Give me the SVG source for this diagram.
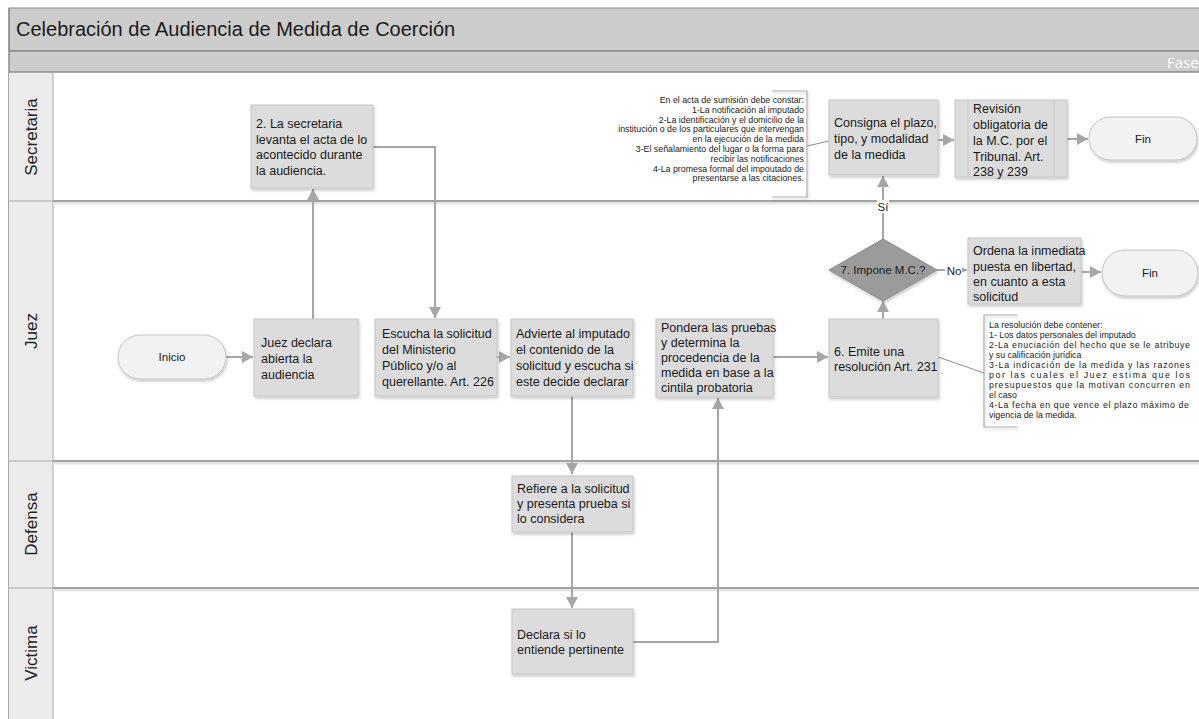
<svg xmlns="http://www.w3.org/2000/svg" width="1199" height="719" viewBox="0 0 1199 719">
  <defs>
    <marker id="arrow" markerUnits="userSpaceOnUse" markerWidth="12" markerHeight="12" refX="11" refY="6" orient="auto">
      <path d="M0,0 L11,6 L0,12 z" fill="#a6a6a6"/>
    </marker>
    <filter id="shadow" x="-10%" y="-10%" width="130%" height="130%">
      <feDropShadow dx="1" dy="2" stdDeviation="1.5" flood-color="#000" flood-opacity="0.22"/>
    </filter>
    <style>
      .node { fill: #dcdcdc; stroke: #c6c6c6; stroke-width: 1; filter: url(#shadow); }
      .term { fill: #f2f2f2; stroke: #c2c2c2; stroke-width: 1; filter: url(#shadow); }
      .dec { fill: #9b9b9b; stroke: #8a8a8a; stroke-width: 1; filter: url(#shadow); }
      .txt { font-family: "Liberation Sans", Arial, sans-serif; font-size: 12.5px; fill: #1a1a1a; }
      .small { font-family: "Liberation Sans", Arial, sans-serif; font-size: 11.5px; fill: #1a1a1a; }
      .note { font-family: "Liberation Sans", Arial, sans-serif; font-size: 8.8px; fill: #222; }
      .lane { font-family: "Liberation Sans", Arial, sans-serif; font-size: 17px; fill: #222; }
      .conn { fill: none; stroke: #a6a6a6; stroke-width: 2; }
      .bracket { fill: none; stroke: #b0b0b0; stroke-width: 1.2; filter: url(#shadow); }
      .sep { stroke: #a3a3a3; stroke-width: 2; }
      .sepShade { stroke: #e6e6e6; stroke-width: 3; }
    </style>
  </defs>

  <rect x="0" y="0" width="1199" height="719" fill="#ffffff"/>

  <!-- Pool header -->
  <g id="pool">
    <rect x="9" y="8" width="1195" height="43" fill="#cccccc" stroke="#8c8c8c" stroke-width="1"/>
    <text x="16" y="36" font-family="Liberation Sans, Arial, sans-serif" font-size="20" fill="#1a1a1a">Celebración de Audiencia de Medida de Coerción</text>
    <rect x="9" y="51" width="1195" height="21" fill="#cccccc"/>
    <line x1="9" y1="51" x2="1199" y2="51" stroke="#8c8c8c" stroke-width="1.5"/>
    <line x1="9" y1="72" x2="1199" y2="72" stroke="#8c8c8c" stroke-width="1.5"/>
    <text x="1167" y="68" font-family="Open Sans, sans-serif" font-size="15" fill="#ffffff">Fase</text>
    <line x1="9" y1="8" x2="9" y2="719" stroke="#8c8c8c" stroke-width="1.5"/>
  </g>

  <!-- Lanes -->
  <g id="lanes">
    <rect x="9" y="73" width="44" height="646" fill="#ececec"/>
    <line x1="53" y1="73" x2="53" y2="719" stroke="#a8a8a8" stroke-width="1"/>
    <line x1="9" y1="201" x2="53" y2="201" stroke="#a8a8a8" stroke-width="1"/>
    <line x1="9" y1="461" x2="53" y2="461" stroke="#a8a8a8" stroke-width="1"/>
    <line x1="9" y1="588" x2="53" y2="588" stroke="#a8a8a8" stroke-width="1"/>
    <line class="sepShade" x1="53" y1="203" x2="1199" y2="203"/>
    <line class="sepShade" x1="53" y1="463" x2="1199" y2="463"/>
    <line class="sepShade" x1="53" y1="590" x2="1199" y2="590"/>
    <line class="sep" x1="53" y1="201" x2="1199" y2="201"/>
    <line class="sep" x1="53" y1="461" x2="1199" y2="461"/>
    <line class="sep" x1="53" y1="588" x2="1199" y2="588"/>
    <text class="lane" transform="translate(37,137) rotate(-90)" text-anchor="middle">Secretaria</text>
    <text class="lane" transform="translate(37,331) rotate(-90)" text-anchor="middle">Juez</text>
    <text class="lane" transform="translate(37,524) rotate(-90)" text-anchor="middle">Defensa</text>
    <text class="lane" transform="translate(37,653) rotate(-90)" text-anchor="middle">Victima</text>
  </g>

  <!-- Connectors -->
  <g id="connectors">
    <line class="conn" x1="226" y1="357" x2="253" y2="357" marker-end="url(#arrow)"/>
    <line class="conn" x1="313" y1="319" x2="313" y2="189" marker-end="url(#arrow)"/>
    <polyline class="conn" points="373,147 435,147 435,318" marker-end="url(#arrow)"/>
    <line class="conn" x1="497" y1="357" x2="510" y2="357" marker-end="url(#arrow)"/>
    <line class="conn" x1="572" y1="397" x2="572" y2="474" marker-end="url(#arrow)"/>
    <line class="conn" x1="572" y1="532" x2="572" y2="608" marker-end="url(#arrow)"/>
    <polyline class="conn" points="633,642 718,642 718,398" marker-end="url(#arrow)"/>
    <line class="conn" x1="773" y1="357" x2="828" y2="357" marker-end="url(#arrow)"/>
    <line class="conn" x1="883" y1="319" x2="883" y2="301" marker-end="url(#arrow)"/>
    <line class="conn" x1="883" y1="239" x2="883" y2="176" marker-end="url(#arrow)"/>
    <line class="conn" x1="937" y1="270" x2="967" y2="270" marker-end="url(#arrow)"/>
    <line class="conn" x1="1082" y1="272" x2="1101" y2="272" marker-end="url(#arrow)"/>
    <line class="conn" x1="938" y1="140" x2="954" y2="140" marker-end="url(#arrow)"/>
    <line class="conn" x1="1067" y1="139" x2="1088" y2="139" marker-end="url(#arrow)"/>
    <line x1="807" y1="146" x2="829" y2="141" stroke="#8c8c8c" stroke-width="1"/>
    <line x1="938" y1="357" x2="984" y2="373" stroke="#8c8c8c" stroke-width="1"/>
    <rect x="877" y="200" width="12" height="13" fill="#ffffff"/>
    <text class="small" x="883" y="211" text-anchor="middle" font-size="11">Sí</text>
    <rect x="945" y="263" width="17" height="13" fill="#ffffff"/>
    <text class="small" x="954" y="274.5" text-anchor="middle" font-size="11">No</text>
  </g>

  <!-- Secretaria lane -->
  <g id="n-acta">
    <rect class="node" x="251" y="105" width="122" height="83"/>
    <text class="txt" x="256" y="128">2. La secretaria</text>
    <text class="txt" x="256" y="143.5">levanta el acta de lo</text>
    <text class="txt" x="256" y="159">acontecido durante</text>
    <text class="txt" x="256" y="174.5">la  audiencia.</text>
  </g>

  <g id="note-acta">
    <path class="bracket" d="M772,91 H807 V197 H772"/>
    <text class="note" text-anchor="end" x="804" y="103">En el acta de sumisión debe constar:</text>
    <text class="note" text-anchor="end" x="804" y="112.8">1-La notificación al imputado</text>
    <text class="note" text-anchor="end" x="804" y="122.6">2-La identificación y el domicilio de la</text>
    <text class="note" text-anchor="end" x="804" y="132.4">institución o de los particulares que intervengan</text>
    <text class="note" text-anchor="end" x="804" y="142.2">en la ejecución de la medida</text>
    <text class="note" text-anchor="end" x="804" y="152">3-El señalamiento del lugar o la forma para</text>
    <text class="note" text-anchor="end" x="804" y="161.8">recibir las notificaciones</text>
    <text class="note" text-anchor="end" x="804" y="171.6">4-La promesa formal del impoutado de</text>
    <text class="note" text-anchor="end" x="804" y="181.4">presentarse a las citaciones.</text>
  </g>

  <g id="n-consigna">
    <rect class="node" x="829" y="100" width="109" height="75"/>
    <text class="txt" x="834" y="127">Consigna el plazo,</text>
    <text class="txt" x="834" y="143">tipo, y modalidad</text>
    <text class="txt" x="834" y="159">de la medida</text>
  </g>

  <g id="n-revision">
    <rect class="node" x="955" y="100" width="112" height="77"/>
    <line x1="968" y1="100" x2="968" y2="177" stroke="#c6c6c6" stroke-width="1"/>
    <line x1="1054" y1="100" x2="1054" y2="177" stroke="#c6c6c6" stroke-width="1"/>
    <text class="txt" x="973" y="113">Revisión</text>
    <text class="txt" x="973" y="129">obligatoria  de</text>
    <text class="txt" x="973" y="145">la M.C. por el</text>
    <text class="txt" x="973" y="161">Tribunal. Art.</text>
    <text class="txt" x="973" y="176">238 y 239</text>
  </g>

  <g id="n-fin1">
    <rect class="term" x="1089" y="117" width="108" height="43" rx="21.5" ry="21.5"/>
    <text class="small" x="1143" y="143" text-anchor="middle">Fin</text>
  </g>

  <!-- Juez lane -->
  <g id="n-inicio">
    <rect class="term" x="118" y="335" width="108" height="44" rx="22" ry="22"/>
    <text class="small" x="172" y="361" text-anchor="middle">Inicio</text>
  </g>

  <g id="n-abierta">
    <rect class="node" x="254" y="319" width="104" height="77"/>
    <text class="txt" x="261" y="347">Juez declara</text>
    <text class="txt" x="261" y="363">abierta la</text>
    <text class="txt" x="261" y="379">audiencia</text>
  </g>

  <g id="n-escucha">
    <rect class="node" x="375" y="319" width="122" height="77"/>
    <text class="txt" x="382" y="338">Escucha la solicitud</text>
    <text class="txt" x="382" y="354">del Ministerio</text>
    <text class="txt" x="382" y="370">Público  y/o al</text>
    <text class="txt" x="382" y="386">querellante. Art. 226</text>
  </g>

  <g id="n-advierte">
    <rect class="node" x="511" y="319" width="122" height="77"/>
    <text class="txt" x="516" y="338">Advierte al imputado</text>
    <text class="txt" x="516" y="354">el contenido de la</text>
    <text class="txt" x="516" y="370">solicitud y escucha si</text>
    <text class="txt" x="516" y="386">este decide declarar</text>
  </g>

  <g id="n-pondera">
    <rect class="node" x="656" y="319" width="117" height="78"/>
    <text class="txt" x="661" y="332">Pondera las pruebas</text>
    <text class="txt" x="661" y="347">y determina la</text>
    <text class="txt" x="661" y="362">procedencia de la</text>
    <text class="txt" x="661" y="377">medida en base a la</text>
    <text class="txt" x="661" y="392">cintila probatoria</text>
  </g>

  <g id="n-emite">
    <rect class="node" x="829" y="319" width="109" height="78"/>
    <text class="txt" x="834" y="356">6. Emite una</text>
    <text class="txt" x="834" y="371">resolución Art. 231</text>
  </g>

  <g id="note-resolucion">
    <path class="bracket" d="M1017,315 H984 V427 H1017"/>
    <text class="note" x="989" y="327.5">La resolución debe contener:</text>
    <text class="note" x="989" y="337.5">1- Los datos personales del imputado</text>
    <text class="note" x="989" y="347.5" textLength="201" lengthAdjust="spacing">2-La enuciación del hecho que se le atribuye</text>
    <text class="note" x="989" y="357.5">y su calificación jurídica</text>
    <text class="note" x="989" y="367.5" textLength="201" lengthAdjust="spacing">3-La indicación de la medida y las razones</text>
    <text class="note" x="989" y="377.5" textLength="201" lengthAdjust="spacing">por las cuales el Juez estima que los</text>
    <text class="note" x="989" y="387.5" textLength="201" lengthAdjust="spacing">presupuestos que la motivan concurren en</text>
    <text class="note" x="989" y="397.5">el caso</text>
    <text class="note" x="989" y="407.5" textLength="200" lengthAdjust="spacing">4-La fecha en que vence el plazo máximo de</text>
    <text class="note" x="989" y="417.5">vigencia de la medida.</text>
  </g>

  <g id="n-impone">
    <polygon class="dec" points="883,239 937,270 883,301 829,270"/>
    <text class="small" x="883" y="274" text-anchor="middle" font-size="11">7. Impone M.C.?</text>
  </g>

  <g id="n-ordena">
    <rect class="node" x="968" y="238" width="113" height="66"/>
    <text class="txt" x="973" y="255">Ordena la inmediata</text>
    <text class="txt" x="973" y="270.5">puesta en libertad,</text>
    <text class="txt" x="973" y="286">en cuanto a esta</text>
    <text class="txt" x="973" y="301">solicitud</text>
  </g>

  <g id="n-fin2">
    <rect class="term" x="1102" y="250" width="96" height="46" rx="23" ry="23"/>
    <text class="small" x="1150" y="277" text-anchor="middle">Fin</text>
  </g>

  <!-- Defensa lane -->
  <g id="n-refiere">
    <rect class="node" x="512" y="476" width="121" height="56"/>
    <text class="txt" x="517" y="493">Refiere a la solicitud</text>
    <text class="txt" x="517" y="508">y presenta prueba si</text>
    <text class="txt" x="517" y="523">lo considera</text>
  </g>

  <!-- Victima lane -->
  <g id="n-declara">
    <rect class="node" x="512" y="609" width="121" height="65"/>
    <text class="txt" x="517" y="639">Declara si lo</text>
    <text class="txt" x="517" y="654">entiende pertinente</text>
  </g>
</svg>
